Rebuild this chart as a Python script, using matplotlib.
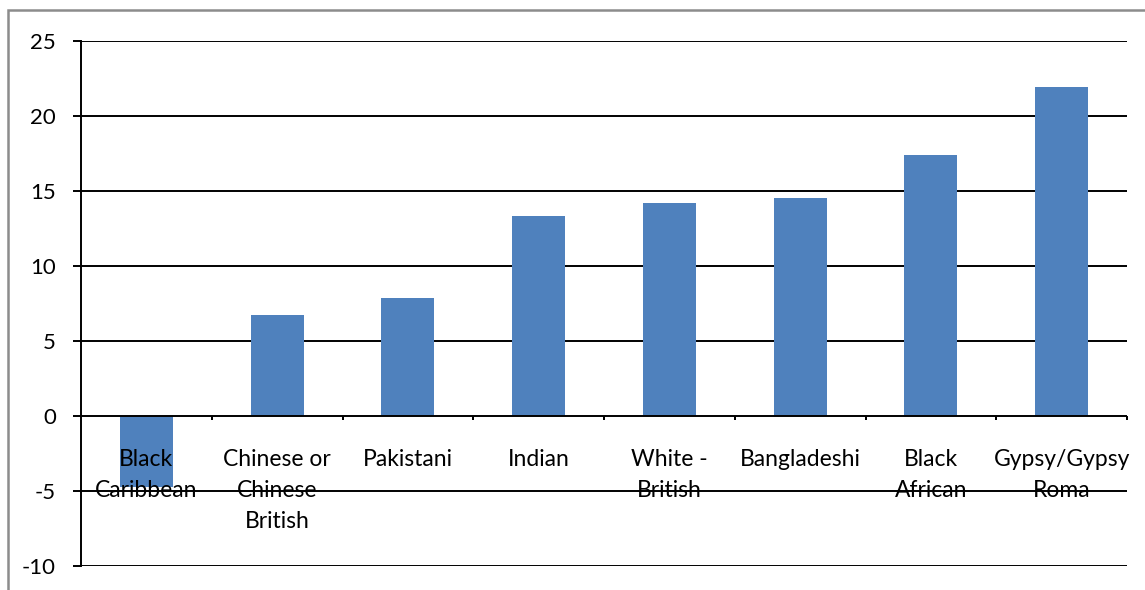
import numpy as np
import matplotlib
matplotlib.use('Agg')
import matplotlib.pyplot as plt
from matplotlib.patches import Rectangle

plt.rcParams['font.family'] = ['Lato', 'DejaVu Sans']

categories = ["Black\nCaribbean", "Chinese or\nChinese\nBritish", "Pakistani", "Indian",
              "White -\nBritish", "Bangladeshi", "Black\nAfrican", "Gypsy/Gypsy\nRoma"]
values = [-4.75, 6.73, 7.87, 13.33, 14.2, 14.53, 17.4, 21.93]
yticks = [-10, -5, 0, 5, 10, 15, 20, 25]

fig = plt.figure(figsize=(11.45, 5.9), dpi=100)
ax = fig.add_axes([81 / 1145, 1 - 566 / 590, (1127 - 81) / 1145, (566 - 41) / 590])

# outer chart frame (cut off on right and bottom)
fig.patches.append(Rectangle((8 / 1145, -0.2), 1.2, 1.2 - 10 / 590, transform=fig.transFigure,
                             fill=False, edgecolor='#8c8c8c', linewidth=1.8))

x = np.arange(len(categories))
ax.bar(x, values, width=0.405, color='#4F81BD', zorder=2)

for v in yticks:
    if v != 0:
        ax.axhline(v, color='black', linewidth=1.4, zorder=1.5)
ax.axhline(0, color='black', linewidth=1.4, zorder=3)

ax.set_xlim(-0.5, len(categories) - 0.5)
ax.set_ylim(-10, 25)
ax.set_yticks(yticks)
ax.set_yticklabels([str(v) for v in yticks], fontsize=16)
ax.tick_params(axis='y', length=6, width=1.4, color='black', pad=12)

for s in ['top', 'right', 'bottom']:
    ax.spines[s].set_visible(False)
ax.spines['left'].set_linewidth(1.4)
ax.set_xticks([])

# category boundary ticks on the zero line
for b in np.arange(0.5, len(categories), 1.0):
    ax.plot([b, b], [0, 0], marker=[(0, 0), (0, -1)], markersize=6, markeredgewidth=1.4,
            color='black', zorder=3, clip_on=False)

for i, lab in enumerate(categories):
    ax.annotate(lab, (i, 0), xytext=(0, -23.5), textcoords='offset points',
                ha='center', va='top', fontsize=16.5, linespacing=1.6, zorder=2.5)

fig.savefig('out.png', dpi=100)
